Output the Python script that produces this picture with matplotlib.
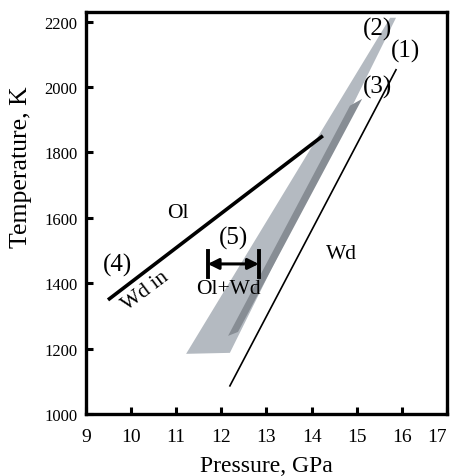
import numpy as np
import matplotlib
matplotlib.use("Agg")
import matplotlib.pyplot as plt

plt.rcParams["font.family"] = ["Liberation Serif", "DejaVu Serif"]

# (2) light band: outline in (P, T)
band2_p = [11.22, 12.19, 15.87, 15.74]
band2_t = [1184, 1187, 2212, 2212]
# (3) dark band
band3_p = [12.15, 12.37, 15.12, 14.85]
band3_t = [1239, 1251, 1964, 1943]
# (1) thin line
line1_p = [12.19, 15.87]
line1_t = [1086, 2053]
# (4) thick line, Wd in
line4_p = [9.49, 14.25]
line4_t = [1349, 1851]
# (5) Ol+Wd pressure range at fixed temperature
range5_p = [11.70, 12.83]
range5_t = 1459
range5_bar = 40

x_ticks = [9, 10, 11, 12, 13, 14, 15, 16, 17]
y_ticks = [1000, 1200, 1400, 1600, 1800, 2000, 2200]

fig = plt.figure(figsize=(4.52, 4.77), dpi=100)
ax = fig.add_axes([0.190, 0.130, 0.799, 0.843])

ax.fill(band2_p, band2_t, color="#b4bac1", lw=0, zorder=1)
ax.fill(band3_p, band3_t, color="#878d94", lw=0, zorder=2)
ax.plot(line1_p, line1_t, color="black", lw=1.2, zorder=3)
ax.plot(line4_p, line4_t, color="black", lw=2.6, solid_capstyle="butt", zorder=3)

# double arrow with end bars
ax.annotate("", xy=(range5_p[1], range5_t), xytext=(range5_p[0], range5_t),
            arrowprops=dict(arrowstyle="<|-|>", color="black", lw=2.2,
                            mutation_scale=16, shrinkA=0, shrinkB=0), zorder=4)
for p in range5_p:
    ax.plot([p, p], [range5_t - range5_bar, range5_t + range5_bar],
            color="black", lw=2.8, zorder=4)

lab = dict(fontsize=18, ha="center", va="center", zorder=5)
ax.text(15.45, 2180, "(2)", **lab)
ax.text(16.09, 2111, "(1)", **lab)
ax.text(15.45, 2001, "(3)", **lab)
ax.text(9.71, 1456, "(4)", **lab)
ax.text(12.26, 1540, "(5)", **lab)

txt = dict(fontsize=15.5, ha="center", va="center", zorder=5)
ax.text(11.04, 1615, "Ol", **txt)
ax.text(14.67, 1490, "Wd", **txt)
ax.text(12.15, 1383, "Ol+Wd", **txt)
ax.text(10.33, 1377, "Wd in", rotation=37, rotation_mode="anchor", **txt)

ax.set_xlim(9, 17)
ax.set_ylim(1000, 2230)
ax.set_xticks(x_ticks)
ax.set_yticks(y_ticks)
ax.tick_params(axis="both", direction="in", length=5, width=2.2)
ax.tick_params(axis="x", labelsize=14, pad=10)
ax.tick_params(axis="y", labelsize=12, pad=6)
ax.get_xticklabels()[-1].set_ha("right")
for s in ax.spines.values():
    s.set_linewidth(2.4)

ax.set_xlabel("Pressure, GPa", fontsize=17, labelpad=7)
ax.set_ylabel("Temperature, K", fontsize=18.5)
ax.yaxis.set_label_coords(-0.15, 0.617)

plt.savefig("out.png", dpi=100)
plt.close()
